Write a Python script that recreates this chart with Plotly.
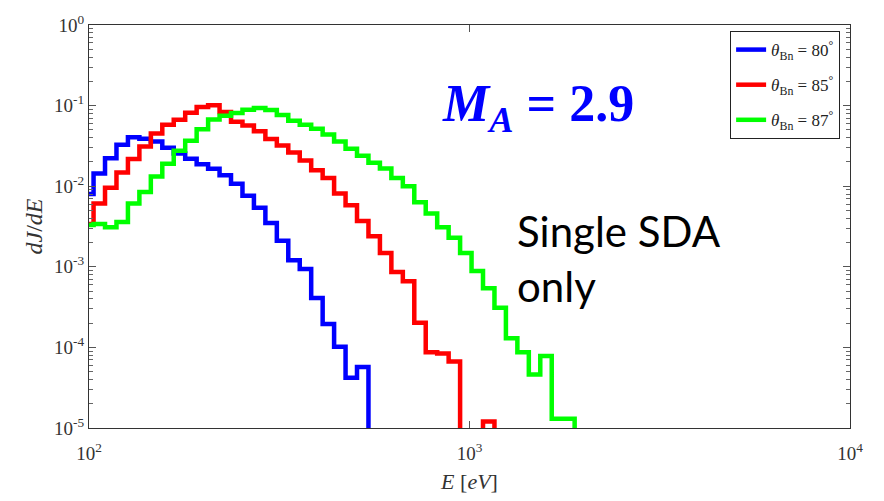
import numpy as np
import plotly.graph_objects as go

# Log-spaced energy bins: ten bins per doubling of energy, first edge just below 100 eV
EDGE0_EV = 102.8 / 2 ** 0.1
BIN_RATIO = 2 ** 0.1

# dJ/dE per bin (0 = empty bin)
flux_80 = [0.0080, 0.0144, 0.0223, 0.0327, 0.0404, 0.0388, 0.0358, 0.0300, 0.0254,
           0.0219, 0.0187, 0.0165, 0.0137, 0.0107, 0.0076, 0.0054, 0.0035, 0.0021,
           0.00121, 0.00094, 0.00041, 0.000195, 0.000102, 4.2e-5, 5.7e-5, 0.0]
flux_85 = [0.0034, 0.0061, 0.0096, 0.0148, 0.0217, 0.0310, 0.0451, 0.0577, 0.0667,
           0.0815, 0.0960, 0.1010, 0.0830, 0.0630, 0.0565, 0.0480, 0.0386, 0.0320,
           0.0261, 0.0208, 0.0158, 0.0126, 0.0081, 0.0058, 0.0037, 0.0024, 0.00148,
           0.00086, 0.00066, 0.000202, 8.7e-5, 8.4e-5, 6.7e-5, 0.0, 0.0, 1.2e-5, 0.0]
flux_87 = [0.0033, 0.0034, 0.0031, 0.0036, 0.0061, 0.0085, 0.0132, 0.0190, 0.0275,
           0.0367, 0.0510, 0.0670, 0.0750, 0.0810, 0.0890, 0.0934, 0.0880, 0.0765,
           0.0650, 0.0577, 0.0517, 0.0439, 0.0359, 0.0291, 0.0238, 0.0195, 0.0166,
           0.0126, 0.0100, 0.0063, 0.0046, 0.0031, 0.0023, 0.00148, 0.00089, 0.00054,
           0.00031, 0.00013, 8.7e-5, 4.6e-5, 7.8e-5, 1.3e-5, 1.3e-5, 0.0]

series_names = ["<i>θ</i><sub>Bn</sub> = 80<sup>°</sup>",
                "<i>θ</i><sub>Bn</sub> = 85<sup>°</sup>",
                "<i>θ</i><sub>Bn</sub> = 87<sup>°</sup>"]
series_colors = ["#0000ff", "#ff0000", "#00ff00"]

x_tick_vals = [1e2, 1e3, 1e4]
x_tick_text = ["10<sup>2</sup>", "10<sup>3</sup>", "10<sup>4</sup>"]
y_tick_vals = [1e-5, 1e-4, 1e-3, 1e-2, 1e-1, 1e0]
y_tick_text = ["10<sup>-5</sup>", "10<sup>-4</sup>", "10<sup>-3</sup>",
               "10<sup>-2</sup>", "10<sup>-1</sup>", "10<sup>0</sup>"]

FLOOR = 1e-9  # empty bins drop below the visible range on the log axis

fig = go.Figure()
for i, (vals, name, color) in enumerate(zip([flux_80, flux_85, flux_87], series_names, series_colors)):
    v = np.asarray(vals, dtype=float)
    edges = EDGE0_EV * BIN_RATIO ** np.arange(len(v) + 1)
    y = np.where(v > 0, v, FLOOR)
    fig.add_trace(go.Scatter(
        x=edges, y=np.append(y, y[-1]), mode="lines", line_shape="hv",
        line=dict(color=color, width=4.5), name=name, legendgroup=f"g{i}",
    ))

serif = "Liberation Serif"
axis_common = dict(
    showline=True, linecolor="#333333", linewidth=1, mirror="ticks",
    ticks="inside", tickcolor="#555555", showgrid=False, zeroline=False,
    tickfont=dict(family=serif, size=19, color="#333333"),
)
fig.update_xaxes(type="log", range=[2, 4], tickvals=x_tick_vals, ticktext=x_tick_text,
                 ticklen=7, ticklabelstandoff=8,
                 title=dict(text="<i>E</i> [<i>eV</i>]", font=dict(family=serif, size=22, color="#333333"),
                            standoff=10),
                 **axis_common)
fig.update_yaxes(type="log", range=[-5, 0], tickvals=y_tick_vals, ticktext=y_tick_text,
                 ticklen=7,
                 minor=dict(ticks="inside", ticklen=4, tickcolor="#666666", dtick="D1"),
                 title=dict(text="<i>dJ</i>/<i>dE</i>", font=dict(family=serif, size=24, color="#333333"),
                            standoff=4),
                 **axis_common)

fig.add_annotation(x=0.59, y=0.88, xref="paper", yref="paper", showarrow=False,
                   text="<b><i>M</i><sub><i>A</i></sub> = 2.9</b>",
                   font=dict(family=serif, size=52, color="#0000ff"))
fig.add_annotation(x=0.56, y=0.42, xref="paper", yref="paper", showarrow=False,
                   xanchor="left", yanchor="middle", align="left",
                   text="Single SDA<br>only",
                   font=dict(family="Lato", size=42, color="#000000"))

fig.update_layout(
    width=884, height=501,
    margin=dict(l=89, r=34, t=15, b=65),
    paper_bgcolor="white", plot_bgcolor="white",
    showlegend=True,
    legend=dict(x=0.987, y=0.985, xanchor="right", yanchor="top",
                bgcolor="white", bordercolor="#222222", borderwidth=1,
                font=dict(family=serif, size=17, color="#222222"),
                traceorder="grouped", tracegroupgap=10),
)

fig.write_html("out.html")
